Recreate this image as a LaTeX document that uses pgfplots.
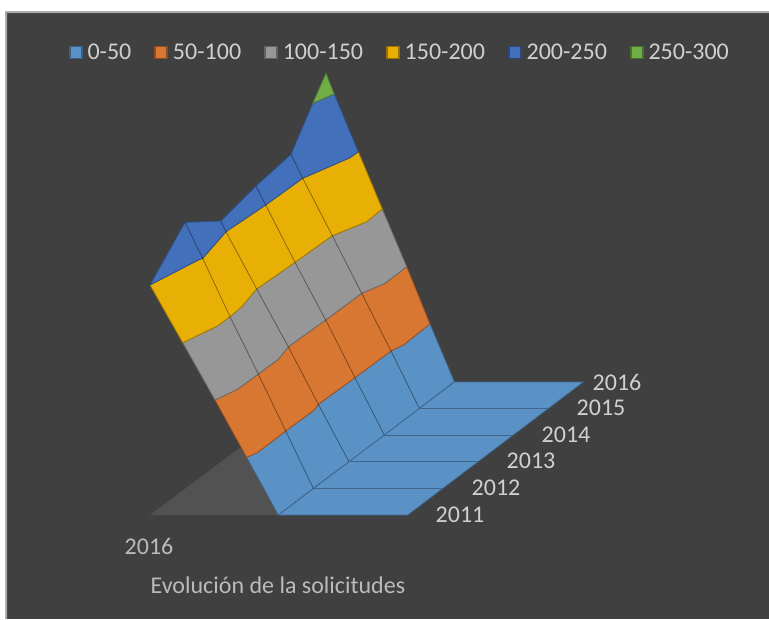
\documentclass[border=0pt]{standalone}
\usepackage{fontspec}
\setmainfont{Carlito}
\usepackage{pgfplots}
\pgfplotsset{compat=1.18}
\definecolor{bgc}{HTML}{404040}
\definecolor{wallc}{HTML}{525252}
\definecolor{ca}{HTML}{5B92C6}
\definecolor{cb}{HTML}{D87732}
\definecolor{cc}{HTML}{979797}
\definecolor{cd}{HTML}{E8B005}
\definecolor{ce}{HTML}{4370BA}
\definecolor{cf}{HTML}{70AD47}
\definecolor{txt}{HTML}{D0D0D0}
\pgfplotsset{
  sq/.style={legend image code/.code={\draw[line width=1.6pt,##1] (0pt,-6pt) rectangle (12pt,6pt);}},
}
\begin{document}
\begin{tikzpicture}
\begin{axis}[
  scale only axis, width=769pt, height=619pt,
  xmin=0, xmax=769, ymin=0, ymax=619, y dir=reverse,
  hide axis, clip=true,
  legend columns=6,
  legend cell align=left,
  legend style={at={(0.0894,0.9155)}, anchor=west, draw=none, fill=none, inner sep=0pt,
    text=txt, font=\fontsize{24}{26}\selectfont,
    /tikz/every even column/.append style={column sep=18pt},
    nodes={inner xsep=5pt, inner ysep=0pt}},
]
% chart background, then the page margin on its left and top
\addplot[forget plot, draw=none, fill=bgc] coordinates {(0,0)(769,0)(769,619)(0,619)} -- cycle;
\addplot[forget plot, draw=none, fill=gray!70] coordinates {(0,0)(769,0)(769,13)(7,13)(7,619)(0,619)} -- cycle;
\addplot[forget plot, draw=none, fill=white] coordinates {(0,0)(769,0)(769,11)(5,11)(5,619)(0,619)} -- cycle;
% shadow wall
\addplot[forget plot, draw=none, fill=wallc] coordinates {(150,515)(278.3,515)(246.7,457.3)(240,447.7)} -- cycle;
% floor
\addplot[forget plot, draw=ca!70!black, line width=0.8pt, fill=ca] coordinates {(278.3,515)(407.7,515)(583.3,382)(454.3,382)} -- cycle;
% bands
\addplot[forget plot, draw=ca!70!black, line width=0.8pt, fill=ca] coordinates {(278.3,515)(313.3,488.3)(349,461.7)(384.3,435)(419.3,408.3)(454.3,381.7)(430,324)(403.3,345)(391,351)(355,377.7)(318.3,404.3)(314.3,410)(285.7,431)(257.3,452.7)(246.7,457.3)} -- cycle;
\addplot[forget plot, draw=cb!70!black, line width=0.8pt, fill=cb] coordinates {(246.7,457.3)(257.3,452.7)(285.7,431)(314.3,410)(318.3,404.3)(355,377.7)(391,351)(403.3,345)(430,324)(406.7,266.7)(385,283.3)(361.7,293.3)(325.7,320)(288.3,346.7)(278.3,359.3)(258.3,374)(237.3,389.3)(215,400)} -- cycle;
\addplot[forget plot, draw=cc!70!black, line width=0.8pt, fill=cc] coordinates {(215,400)(237.3,389.3)(258.3,374)(278.3,359.3)(288.3,346.7)(325.7,320)(361.7,293.3)(385,283.3)(406.7,266.7)(382.3,209)(366.7,221.7)(332.3,235.7)(295,262.3)(256.7,289)(241.7,306.7)(230,316.7)(217.3,326)(182.7,342.7)} -- cycle;
\addplot[forget plot, draw=cd!70!black, line width=0.8pt, fill=cd] coordinates {(182.7,342.7)(217.3,326)(230,316.7)(241.7,306.7)(256.7,289)(295,262.3)(332.3,235.7)(366.7,221.7)(382.3,209)(358.3,151.7)(350,157.7)(302.7,178.3)(265.7,205)(226,231.7)(202.7,258.3)(198.3,260)(150,285)} -- cycle;
\addplot[forget plot, draw=ce!70!black, line width=0.8pt, fill=ce] coordinates {(150,285)(198.3,260)(202.7,258.3)(226,231.7)(265.7,205)(302.7,178.3)(350,157.7)(358.3,151.7)(334.3,94)(312.7,103.3)(291,154.3)(256,186)(220.7,221)(185,222.3)} -- cycle;
\addplot[forget plot, draw=cf!70!black, line width=0.8pt, fill=cf] coordinates {(312.7,103.3)(334.3,94)(326,73.3)} -- cycle;
% grid lines across the wall
\pgfplotsset{gl/.style={forget plot, draw=black, draw opacity=0.4, line width=0.8pt}}
\addplot[gl] coordinates {(313.3,488.3)(285.7,431)(258.3,374)(230,316.7)(202.7,258.3)(185,222.3)};
\addplot[gl] coordinates {(349,461.7)(318.3,404.3)(288.3,346.7)(256.7,289)(226,231.7)(220.7,221)};
\addplot[gl] coordinates {(384.3,435)(355,377.7)(325.7,320)(295,262.3)(265.7,205)(256,186)};
\addplot[gl] coordinates {(419.3,408.3)(391,351)(361.7,293.3)(332.3,235.7)(302.7,178.3)(291,154.3)};
% grid lines across the floor
\pgfplotsset{fl/.style={forget plot, draw=ca!70!black, line width=0.9pt}}
\addplot[fl] coordinates {(313.3,488.3)(442.5,488.3)};
\addplot[fl] coordinates {(349,461.7)(478,461.7)};
\addplot[fl] coordinates {(384.3,435)(513,435)};
\addplot[fl] coordinates {(419.3,408.3)(548,408.3)};
% legend
\addlegendimage{sq, draw=ca!65!black, fill=ca}\addlegendentry{0-50}
\addlegendimage{sq, draw=cb!65!black, fill=cb}\addlegendentry{50-100}
\addlegendimage{sq, draw=cc!65!black, fill=cc}\addlegendentry{100-150}
\addlegendimage{sq, draw=cd!65!black, fill=cd}\addlegendentry{150-200}
\addlegendimage{sq, draw=ce!65!black, fill=ce}\addlegendentry{200-250}
\addlegendimage{sq, draw=cf!65!black, fill=cf}\addlegendentry{250-300}
% labels
\tikzset{lab/.style={text=txt, font=\fontsize{24}{26}\selectfont, anchor=center, inner sep=0pt}}
\node[lab] at (axis cs:617,382) {2016};
\node[lab] at (axis cs:601,408) {2015};
\node[lab] at (axis cs:566,435) {2014};
\node[lab] at (axis cs:531,461) {2013};
\node[lab] at (axis cs:496,488) {2012};
\node[lab] at (axis cs:460,515) {2011};
\node[lab, text=txt!90!black] at (axis cs:149,546) {2016};
\node[lab, text=txt!90!black] at (axis cs:278,585) {Evolución de la solicitudes};
\end{axis}
\end{tikzpicture}
\end{document}
